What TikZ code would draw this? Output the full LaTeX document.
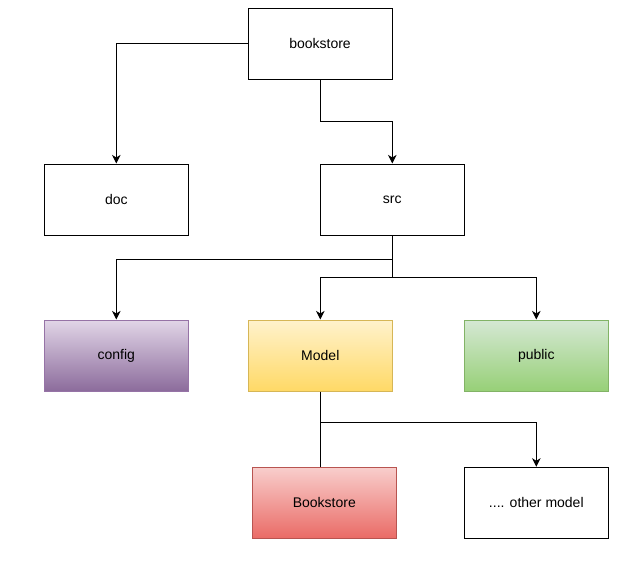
\documentclass[tikz,border=0pt]{standalone}
\usepackage{fontspec}
\setmainfont{Liberation Sans}
\usepackage{tikz}
\usetikzlibrary{arrows.meta, positioning}
\definecolor{purpleTop}{HTML}{E1D5E7}
\definecolor{purpleBot}{HTML}{8C6C9C}
\definecolor{purpleLine}{HTML}{9673A6}
\definecolor{yellowTop}{HTML}{FFF2CC}
\definecolor{yellowBot}{HTML}{FFD966}
\definecolor{yellowLine}{HTML}{D6B656}
\definecolor{greenTop}{HTML}{D5E8D4}
\definecolor{greenBot}{HTML}{97D077}
\definecolor{greenLine}{HTML}{82B366}
\definecolor{redTop}{HTML}{F8CECC}
\definecolor{redBot}{HTML}{EA6B66}
\definecolor{redLine}{HTML}{B85450}
\tikzstyle{folder} = [rectangle, draw=black, line width=0.75pt, minimum width=108pt, minimum height=53.25pt,
                      inner sep=0, font=\fontsize{10.5}{12}\selectfont]
\tikzstyle{link} = [-{Stealth[length=6.5pt, width=6.5pt, inset=2pt]}]

\begin{document}
\begin{tikzpicture}[x=0.75pt, y=-0.75pt, line width=0.75pt]
					\useasboundingbox (0, 0) rectangle (635, 564);

					\node (Root) [folder] at (320, 43.5) {bookstore};

					% doc
					\node (Doc) [folder] at (116.3, 199.5) {doc};
					\coordinate (DocTurn) at (116.3, 43.5);
					\draw (Root) -- (DocTurn);
					\draw [link] (DocTurn) -- (Doc);

					% src
					\node (Src) [folder] at (392.3, 199.5) {src};
					\coordinate (SrcTurn1) at (320, 121);
					\coordinate (SrcTurn2) at (392.3, 121);
					\draw (Root) -- (SrcTurn1);
					\draw (SrcTurn1) -- (SrcTurn2);
					\draw [link] (SrcTurn2) -- (Src);

					\coordinate (SrcSide1) at (392.3, 259.3);
					\coordinate (SrcSide2) at (392.3, 277.3);
					\draw (Src) -- (SrcSide1);
					\draw (SrcSide1) -- (SrcSide2);

					% config
					\node (Config) [folder, draw=purpleLine, top color=purpleTop, bottom color=purpleBot] at (116.3, 355.5) {config};
					\coordinate (ConfigTurn) at (116.3, 259.3);
					\draw (SrcSide1) -- (ConfigTurn);
					\draw [link] (ConfigTurn) -- (Config);

					% Model
					\node (Model) [folder, draw=yellowLine, top color=yellowTop, bottom color=yellowBot] at (320.3, 355.5) {Model};
					\coordinate (ModelTurn) at (320.3, 277.3);
					\draw (SrcSide2) -- (ModelTurn);
					\draw [link] (ModelTurn) -- (Model);

					% public
					\node (Public) [folder, draw=greenLine, top color=greenTop, bottom color=greenBot] at (536.3, 355.5) {public};
					\coordinate (PublicTurn) at (536.3, 277.3);
					\draw (SrcSide2) -- (PublicTurn);
					\draw [link] (PublicTurn) -- (Public);

					% models
					\node (Book) [folder, draw=redLine, top color=redTop, bottom color=redBot] at (324.3, 502.8) {Bookstore};
					\node (Other) [folder] at (536.3, 502.8) {.... other model};
					\coordinate (ModelSide) at (320.3, 422.3);
					\coordinate (BookTop) at (320.3, 467.2);
					\coordinate (OtherTurn) at (536.3, 422.3);
					\draw (Model) -- (ModelSide);
					\draw (ModelSide) -- (BookTop);
					\draw (ModelSide) -- (OtherTurn);
					\draw [link] (OtherTurn) -- (Other);
				\end{tikzpicture}
\end{document}
